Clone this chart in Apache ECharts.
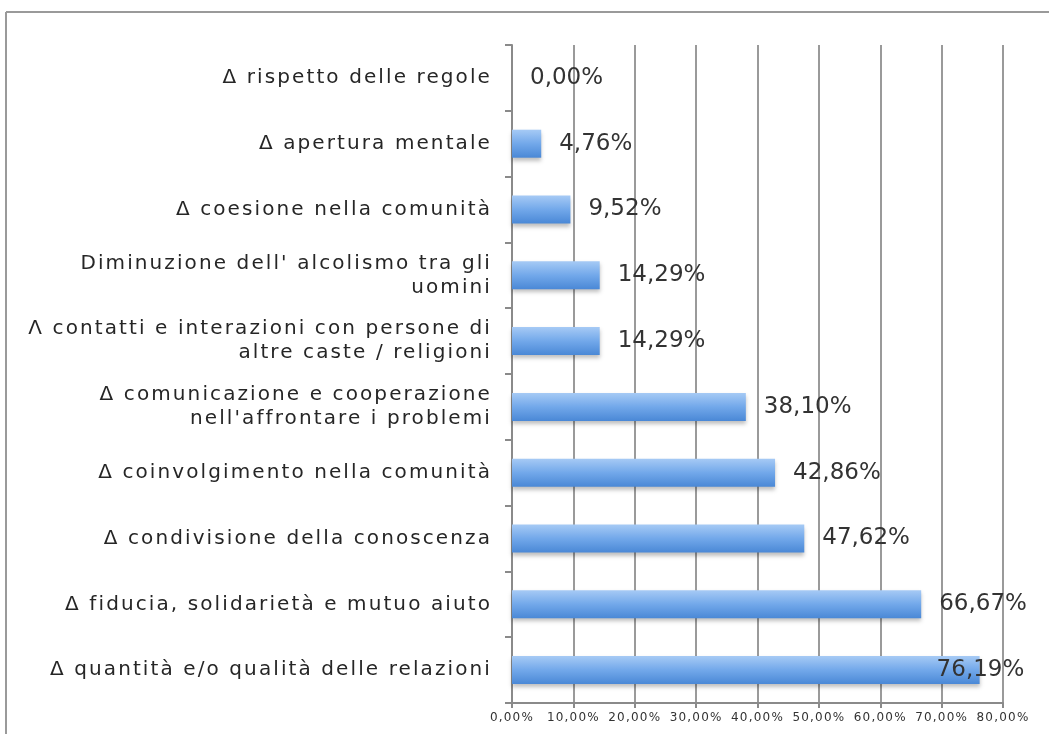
<!DOCTYPE html>
<html>
<head>
<meta charset="utf-8">
<script src="https://cdn.jsdelivr.net/npm/echarts@6/dist/echarts.min.js"></script>
<style>
  html, body { margin: 0; padding: 0; background: #fff; }
  #chart { width: 1049px; height: 734px; }
</style>
</head>
<body>
<div id="chart"></div>
<script>
// Categories listed from the bottom of the chart to the top
const categories = [
  'Δ quantità e/o qualità delle relazioni',
  'Δ fiducia, solidarietà e mutuo aiuto',
  'Δ condivisione della conoscenza',
  'Δ coinvolgimento nella comunità',
  'Δ comunicazione e cooperazione\nnell\'affrontare i problemi',
  'Λ contatti e interazioni con persone di\naltre caste / religioni',
  'Diminuzione dell\' alcolismo tra gli\nuomini',
  'Δ coesione nella comunità',
  'Δ apertura mentale',
  'Δ rispetto delle regole'
];
const values = [76.19, 66.67, 47.62, 42.86, 38.10, 14.29, 14.29, 9.52, 4.76, 0.00];
const axisMin = 0;
const axisMax = 80;
const axisStep = 10;

const fmtPct = v => v.toFixed(2).replace('.', ',') + '%';

// Axis texts use a loosely tracked face: a canvas font string naming the
// "TrackedSansTight" or "TrackedSans" family gets extra letter spacing
// (where the browser supports it).
(function () {
  const proto = CanvasRenderingContext2D.prototype;
  const desc = Object.getOwnPropertyDescriptor(proto, 'font');
  if (!desc || !('letterSpacing' in proto)) return;
  Object.defineProperty(proto, 'font', {
    configurable: true,
    get() { return desc.get.call(this); },
    set(v) {
      desc.set.call(this, v);
      this.letterSpacing = /TrackedSansTight/.test(v) ? '1.2px'
        : /TrackedSans/.test(v) ? '2.1px' : '0px';
    }
  });
})();

const chart = echarts.init(document.getElementById('chart'));

// the longest bar's label is pulled back over the bar end so it stays on the canvas
const barData = values.map(v => {
  const item = { value: v };
  if (v === Math.max(...values)) {
    item.label = { offset: [-61, 0] };
  }
  return item;
});

chart.setOption({
  backgroundColor: '#ffffff',
  animation: false,
  graphic: [
    { type: 'line', shape: { x1: 6, y1: 12, x2: 6, y2: 734 }, style: { stroke: '#9a9a9a', lineWidth: 2 } },
    { type: 'line', shape: { x1: 6, y1: 12, x2: 1049, y2: 12 }, style: { stroke: '#9a9a9a', lineWidth: 2 } }
  ],
  grid: { left: 512, right: 46, top: 45, bottom: 31, containLabel: false },
  xAxis: {
    type: 'value',
    min: axisMin,
    max: axisMax,
    interval: axisStep,
    axisLine: { show: true, onZero: false, lineStyle: { color: '#8a8a8a', width: 2 } },
    axisTick: { show: true, length: 5, lineStyle: { color: '#8a8a8a', width: 2 } },
    splitLine: { show: true, lineStyle: { color: '#9a9a9a', width: 2 } },
    axisLabel: {
      formatter: fmtPct,
      fontFamily: '"DejaVu Sans", TrackedSansTight',
      fontSize: 12,
      color: '#333',
      margin: 8
    }
  },
  yAxis: {
    type: 'category',
    data: categories,
    axisLine: { show: true, lineStyle: { color: '#8a8a8a', width: 2 } },
    axisTick: { show: true, length: 7, lineStyle: { color: '#8a8a8a', width: 2 } },
    axisLabel: {
      fontFamily: '"DejaVu Sans", TrackedSans',
      fontSize: 20,
      lineHeight: 24,
      color: '#262626',
      margin: 20,
      align: 'right'
    }
  },
  series: [{
    type: 'bar',
    data: barData,
    barWidth: 28,
    itemStyle: {
      color: new echarts.graphic.LinearGradient(0, 0, 0, 1, [
        { offset: 0, color: '#a6caf5' },
        { offset: 0.5, color: '#72a8ea' },
        { offset: 1, color: '#4a88d6' }
      ]),
      shadowColor: 'rgba(0,0,0,0.25)',
      shadowBlur: 4,
      shadowOffsetY: 3
    },
    label: {
      show: true,
      position: 'right',
      distance: 18,
      formatter: p => fmtPct(p.value),
      fontFamily: 'DejaVu Sans',
      fontSize: 23,
      color: '#333'
    }
  }]
});
</script>
</body>
</html>
